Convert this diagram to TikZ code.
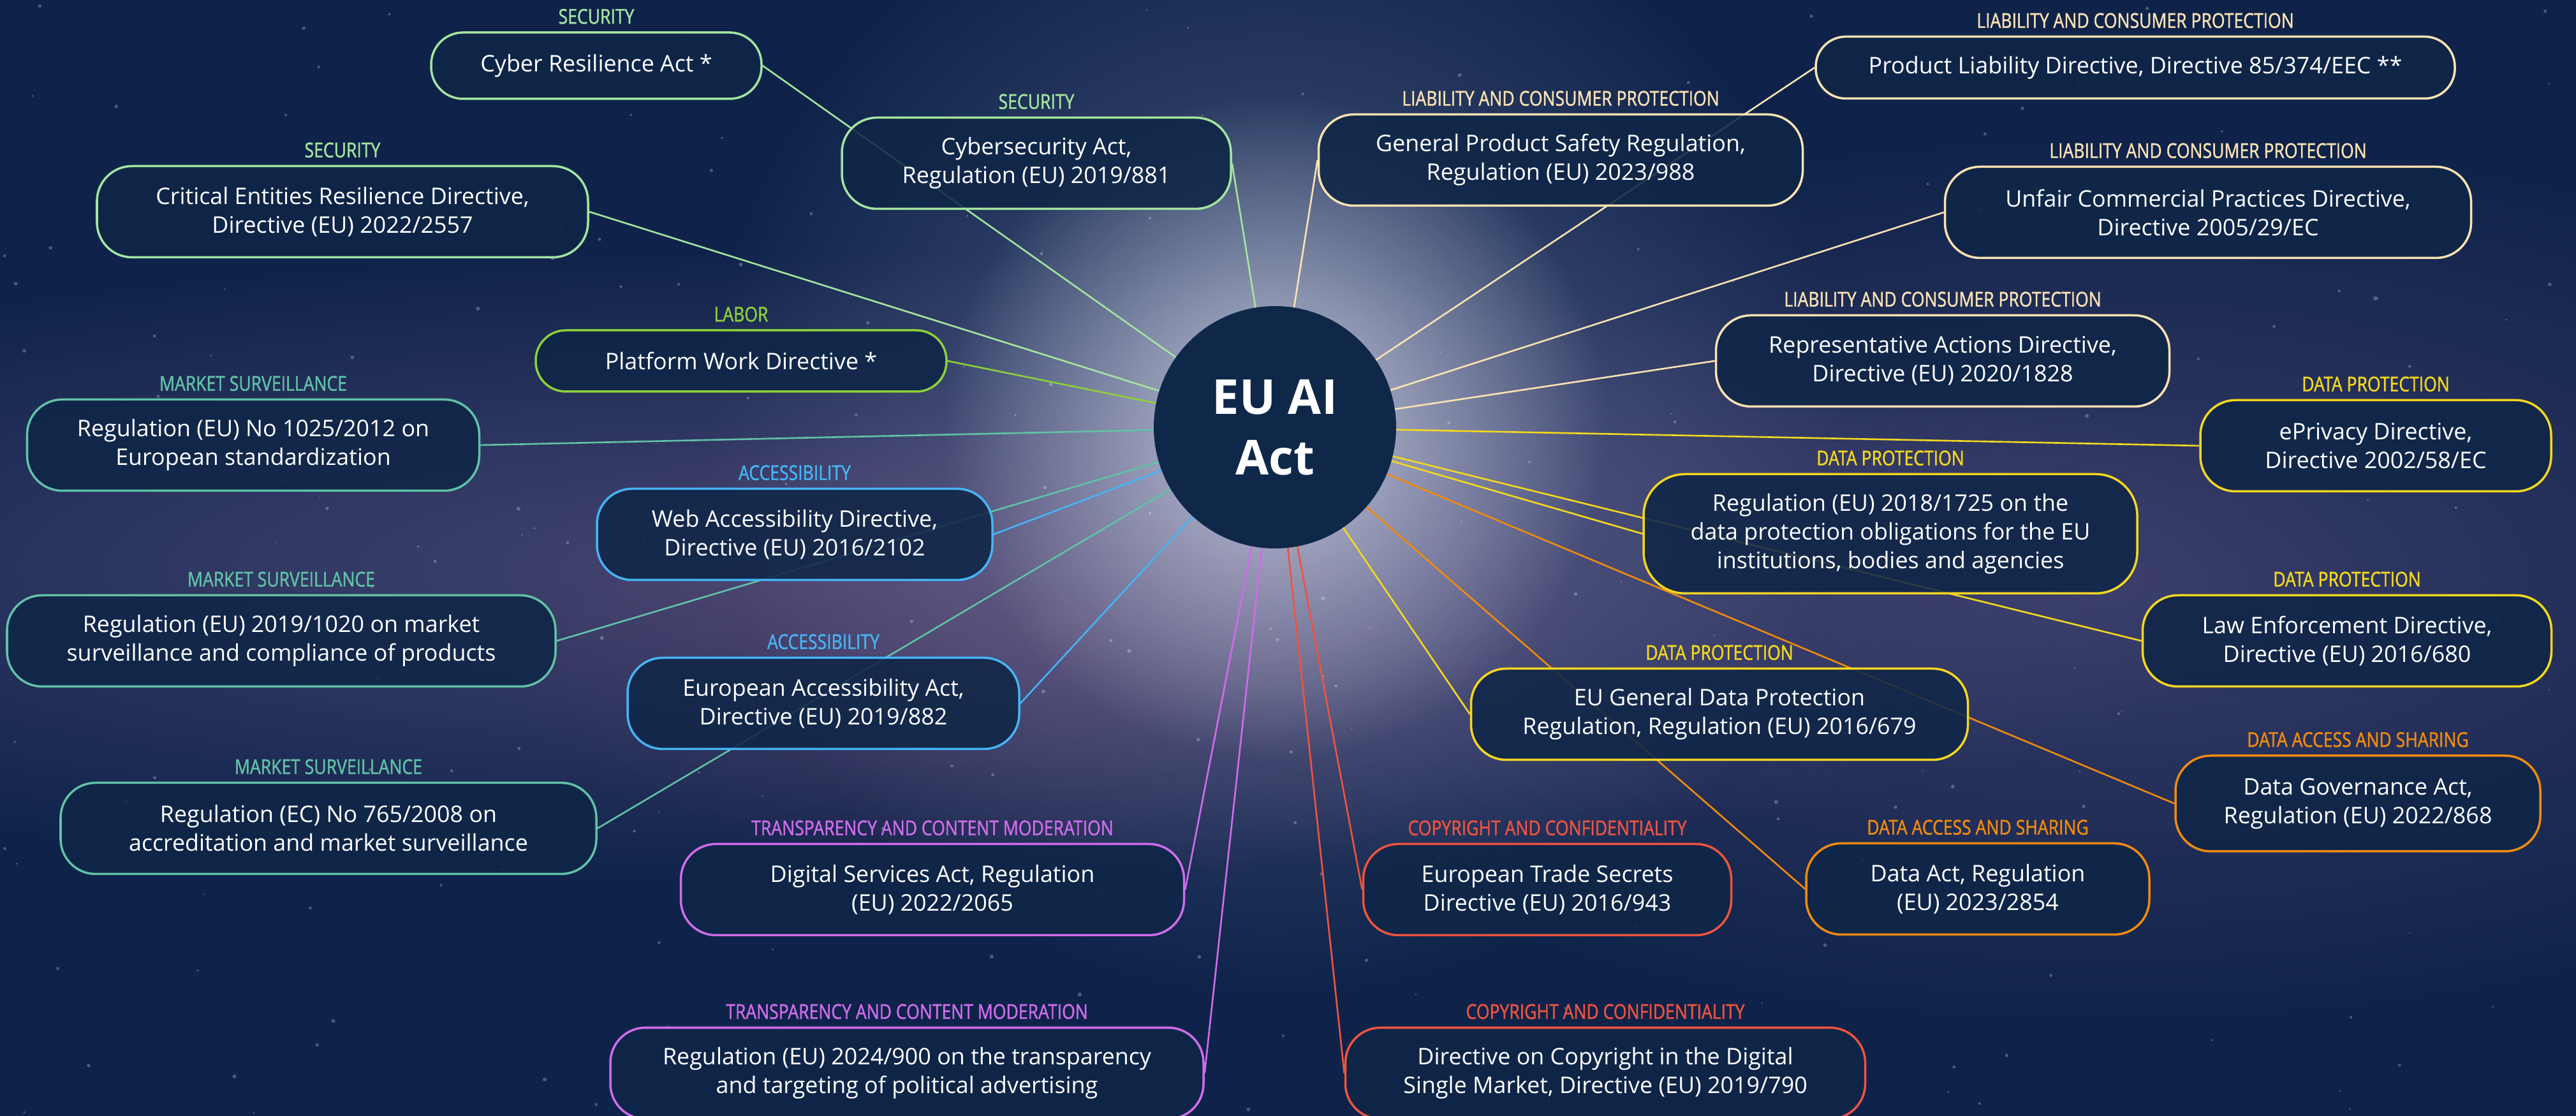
\documentclass[tikz,border=0pt]{standalone}
\usepackage{fontspec}
\setmainfont{Open Sans}
\newfontfamily\labfont[FakeStretch=0.83,FakeBold=1.2]{Open Sans}
\usetikzlibrary{positioning,fadings}
\tikzfading[name=glowout, inner color=transparent!0, outer color=transparent!100]
\pgfdeclarelayer{back}
\pgfsetlayers{back,main}
\definecolor{bgblue}{HTML}{0F234A}
\definecolor{boxfill}{HTML}{0F2647}
\definecolor{hubfill}{HTML}{0F2849}
\definecolor{glow}{HTML}{D2D6E6}
\definecolor{haze}{HTML}{7A84AC}
\definecolor{nebula}{HTML}{6A5C8E}
\definecolor{dusk}{HTML}{7E4D72}
\definecolor{secur}{HTML}{A3E4A0}
\definecolor{labor}{HTML}{8CD03A}
\definecolor{market}{HTML}{60C2A6}
\definecolor{access}{HTML}{45B4F5}
\definecolor{transp}{HTML}{CF6CEB}
\definecolor{copyr}{HTML}{EE5340}
\definecolor{dacc}{HTML}{F08A0F}
\definecolor{datap}{HTML}{F3D720}
\definecolor{liab}{HTML}{FBE2B2}

\begin{document}
\begin{tikzpicture}[line join=round, line cap=round,
		box/.style={draw=#1, fill=boxfill, fill opacity=0.88, text opacity=1, text=white, line width=1pt, rounded corners=0.55cm, align=center, minimum height=1.43cm, font=\fontsize{10.2}{12.8}\selectfont},
		topic/.style={text=#1, inner sep=0pt, font=\labfont\fontsize{9.1}{10}\selectfont},
		link/.style={#1, line width=0.75pt}]
		\useasboundingbox (0,0) rectangle (40.39,17.5);
		% hub
		\node[circle, fill=hubfill, minimum size=3.8cm, text=white, align=center, font=\bfseries\fontsize{21.5}{27}\selectfont] (hub) at (19.99,10.80) {EU AI\\Act};
		% left side
		\node[box=secur, minimum width=5.18cm, minimum height=1.04cm, rounded corners=0.5cm] (cra) at (9.35,16.47) {Cyber Resilience Act *};
		\node[box=secur, minimum width=7.70cm] (cer) at (5.37,14.18) {Critical Entities Resilience Directive,\\Directive (EU) 2022/2557};
		\node[box=secur, minimum width=6.10cm] (csa) at (16.25,14.94) {Cybersecurity Act,\\Regulation (EU) 2019/881};
		\node[box=labor, minimum width=6.44cm, minimum height=0.96cm, rounded corners=0.47cm] (pwd) at (11.62,11.84) {Platform Work Directive *};
		\node[box=market, minimum width=7.09cm] (std) at (3.97,10.52) {Regulation (EU) No 1025/2012 on\\European standardization};
		\node[box=access, minimum width=6.20cm] (wad) at (12.46,9.12) {Web Accessibility Directive,\\Directive (EU) 2016/2102};
		\node[box=market, minimum width=8.60cm] (msr) at (4.41,7.45) {Regulation (EU) 2019/1020 on market\\surveillance and compliance of products};
		\node[box=access, minimum width=6.14cm] (eaa) at (12.91,6.47) {European Accessibility Act,\\Directive (EU) 2019/882};
		\node[box=market, minimum width=8.40cm] (acc) at (5.15,4.51) {Regulation (EC) No 765/2008 on\\accreditation and market surveillance};
		\node[box=transp, minimum width=7.89cm] (dsa) at (14.62,3.55) {Digital Services Act, Regulation\\(EU) 2022/2065};
		\node[box=transp, minimum width=9.30cm] (pol) at (14.22,0.67) {Regulation (EU) 2024/900 on the transparency\\and targeting of political advertising};
		% right side
		\node[box=copyr, minimum width=5.77cm] (tsd) at (24.26,3.55) {European Trade Secrets\\Directive (EU) 2016/943};
		\node[box=copyr, minimum width=8.15cm] (dsm) at (25.17,0.67) {Directive on Copyright in the Digital\\Single Market, Directive (EU) 2019/790};
		\node[box=dacc, minimum width=5.38cm] (dact) at (31.01,3.56) {Data Act, Regulation\\(EU) 2023/2854};
		\node[box=dacc, minimum width=5.72cm, minimum height=1.50cm] (dga) at (36.97,4.90) {Data Governance Act,\\Regulation (EU) 2022/868};
		\node[box=datap, minimum width=7.79cm] (gdpr) at (26.96,6.30) {EU General Data Protection\\Regulation, Regulation (EU) 2016/679};
		\node[box=datap, minimum width=6.41cm] (led) at (36.80,7.45) {Law Enforcement Directive,\\Directive (EU) 2016/680};
		\node[box=datap, minimum width=7.74cm, minimum height=1.87cm, rounded corners=0.65cm] (euid) at (29.64,9.13) {Regulation (EU) 2018/1725 on the\\data protection obligations for the EU\\institutions, bodies and agencies};
		\node[box=datap, minimum width=5.50cm] (epd) at (37.25,10.51) {ePrivacy Directive,\\Directive 2002/58/EC};
		\node[box=liab, minimum width=7.11cm] (rad) at (30.46,11.84) {Representative Actions Directive,\\Directive (EU) 2020/1828};
		\node[box=liab, minimum width=8.25cm] (ucp) at (34.62,14.17) {Unfair Commercial Practices Directive,\\Directive 2005/29/EC};
		\node[box=liab, minimum width=7.59cm] (gpsr) at (24.47,14.99) {General Product Safety Regulation,\\Regulation (EU) 2023/988};
		\node[box=liab, minimum width=10.02cm, minimum height=0.97cm, rounded corners=0.47cm] (pld) at (33.48,16.44) {Product Liability Directive, Directive 85/374/EEC **};
		% topics above the boxes
		\foreach \n/\c/\t in {cra/secur/SECURITY, cer/secur/SECURITY, csa/secur/SECURITY, pwd/labor/LABOR, std/market/MARKET SURVEILLANCE, wad/access/ACCESSIBILITY, msr/market/MARKET SURVEILLANCE, eaa/access/ACCESSIBILITY, acc/market/MARKET SURVEILLANCE, dsa/transp/TRANSPARENCY AND CONTENT MODERATION, pol/transp/TRANSPARENCY AND CONTENT MODERATION, tsd/copyr/COPYRIGHT AND CONFIDENTIALITY, dsm/copyr/COPYRIGHT AND CONFIDENTIALITY, dact/dacc/DATA ACCESS AND SHARING, dga/dacc/DATA ACCESS AND SHARING, gdpr/datap/DATA PROTECTION, led/datap/DATA PROTECTION, euid/datap/DATA PROTECTION, epd/datap/DATA PROTECTION, rad/liab/LIABILITY AND CONSUMER PROTECTION, ucp/liab/LIABILITY AND CONSUMER PROTECTION, gpsr/liab/LIABILITY AND CONSUMER PROTECTION, pld/liab/LIABILITY AND CONSUMER PROTECTION}{\node[topic=\c, above=0.11cm of \n] (\n-t) {\t};}
		\begin{pgfonlayer}{back}
		\fill[bgblue] (0,0) rectangle (40.39,17.5);
		\fill[nebula, opacity=0.6, path fading=glowout] (13,8.6) ellipse (24 and 5);
		\fill[nebula, opacity=0.45, path fading=glowout] (33,8.4) ellipse (16 and 7);
		\fill[dusk, opacity=0.35, path fading=glowout] (16.5,7.6) ellipse (9 and 4);
		\fill[haze, opacity=0.55, path fading=glowout] (hub.center) circle (9);
		\fill[glow, opacity=0.85, path fading=glowout] (hub.center) circle (5.2);
		\pgfmathsetseed{11}
		\foreach \s in {1,...,260}{\fill[white, opacity=0.25] (rnd*40.39, rnd*17.5) circle (0.012+0.02*rnd);}
		\foreach \n/\a/\c in {cra/east/secur, cer/east/secur, csa/east/secur, pwd/east/labor, std/east/market, wad/east/access, msr/east/market, eaa/east/access, acc/east/market, dsa/east/transp, pol/east/transp, tsd/west/copyr, dsm/west/copyr, dact/west/dacc, dga/west/dacc, gdpr/west/datap, led/west/datap, euid/west/datap, epd/west/datap, rad/west/liab, ucp/west/liab, gpsr/west/liab, pld/west/liab}{\draw[link=\c] (hub.center) -- (\n.\a);}
		\end{pgfonlayer}
		\end{tikzpicture}
\end{document}
